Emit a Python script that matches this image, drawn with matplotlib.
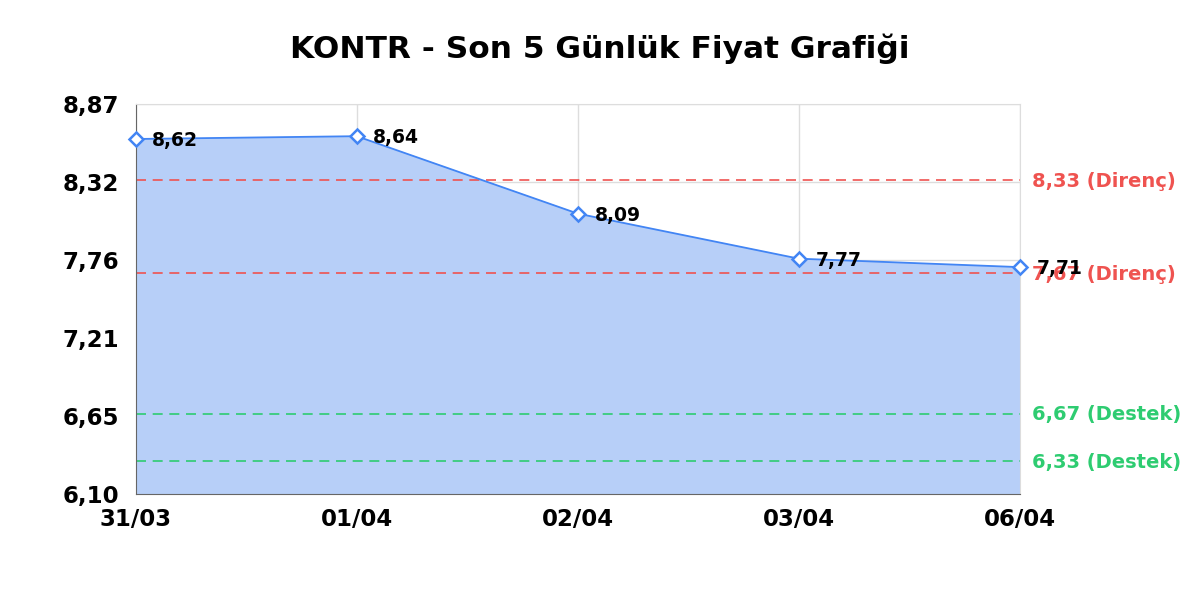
import numpy as np
import matplotlib.pyplot as plt

plt.rcParams['font.family'] = ['DejaVu Sans']
plt.rcParams['font.weight'] = 'bold'

# ==================== 数据 ====================
dates = ['31/03', '01/04', '02/04', '03/04', '06/04']
prices = [8.62, 8.64, 8.09, 7.77, 7.71]
resistance = [8.33, 7.67]
support = [6.67, 6.33]
y_min, y_max = 6.10, 8.87

line_color = '#4285f4'
fill_color = '#b7cff8'
red = '#ef5350'
green = '#2ecc71'


def fmt(v):
    return f'{v:.2f}'.replace('.', ',')


fig = plt.figure(figsize=(12, 6), dpi=100)
ax = fig.add_axes([0.113, 0.177, 0.737, 0.65])

x = np.arange(len(dates))
ax.fill_between(x, prices, y_min, color=fill_color, zorder=1)
ax.plot(x, prices, color=line_color, lw=1.3, zorder=3)
ax.plot(x, prices, linestyle='none', marker='D', ms=7, mfc='white',
        mec=line_color, mew=1.8, zorder=4, clip_on=False)

for xi, p in zip(x, prices):
    ax.annotate(fmt(p), (xi, p), xytext=(12, -1), textcoords='offset points',
                fontsize=13.5, fontweight='bold', va='center', ha='left',
                color='black', zorder=6, annotation_clip=False)

for r in resistance:
    ax.axhline(r, color=red, lw=1.2, ls=(0, (6, 4)), zorder=2)
    ax.annotate(f'{fmt(r)} (Direnç)', (1, r), xycoords=('axes fraction', 'data'),
                xytext=(9, -1), textcoords='offset points', fontsize=14,
                fontweight='bold', va='center', ha='left', color=red,
                annotation_clip=False, zorder=5)
for s in support:
    ax.axhline(s, color=green, lw=1.2, ls=(0, (6, 4)), zorder=2)
    ax.annotate(f'{fmt(s)} (Destek)', (1, s), xycoords=('axes fraction', 'data'),
                xytext=(9, -1), textcoords='offset points', fontsize=14,
                fontweight='bold', va='center', ha='left', color=green,
                annotation_clip=False, zorder=5)

ax.set_xlim(0, len(dates) - 1)
ax.set_ylim(y_min, y_max)
yticks = np.linspace(y_min, y_max, 6)
ax.set_yticks(yticks)
ax.set_yticklabels([fmt(v) for v in yticks])
ax.set_xticks(x)
ax.set_xticklabels(dates)
ax.tick_params(axis='y', labelsize=16.5, length=0, pad=12)
ax.tick_params(axis='x', labelsize=16.5, length=0, pad=10)
for lbl in ax.get_xticklabels() + ax.get_yticklabels():
    lbl.set_fontweight('bold')

ax.grid(True, color='#dddddd', lw=1, zorder=0)
ax.set_axisbelow(True)
for side in ['top', 'right']:
    ax.spines[side].set_color('#dddddd')
for side in ['left', 'bottom']:
    ax.spines[side].set_color('#666666')

fig.suptitle('KONTR - Son 5 Günlük Fiyat Grafiği', fontsize=22.5,
             fontweight='bold', y=0.945)

fig.savefig('out.png', dpi=100)
